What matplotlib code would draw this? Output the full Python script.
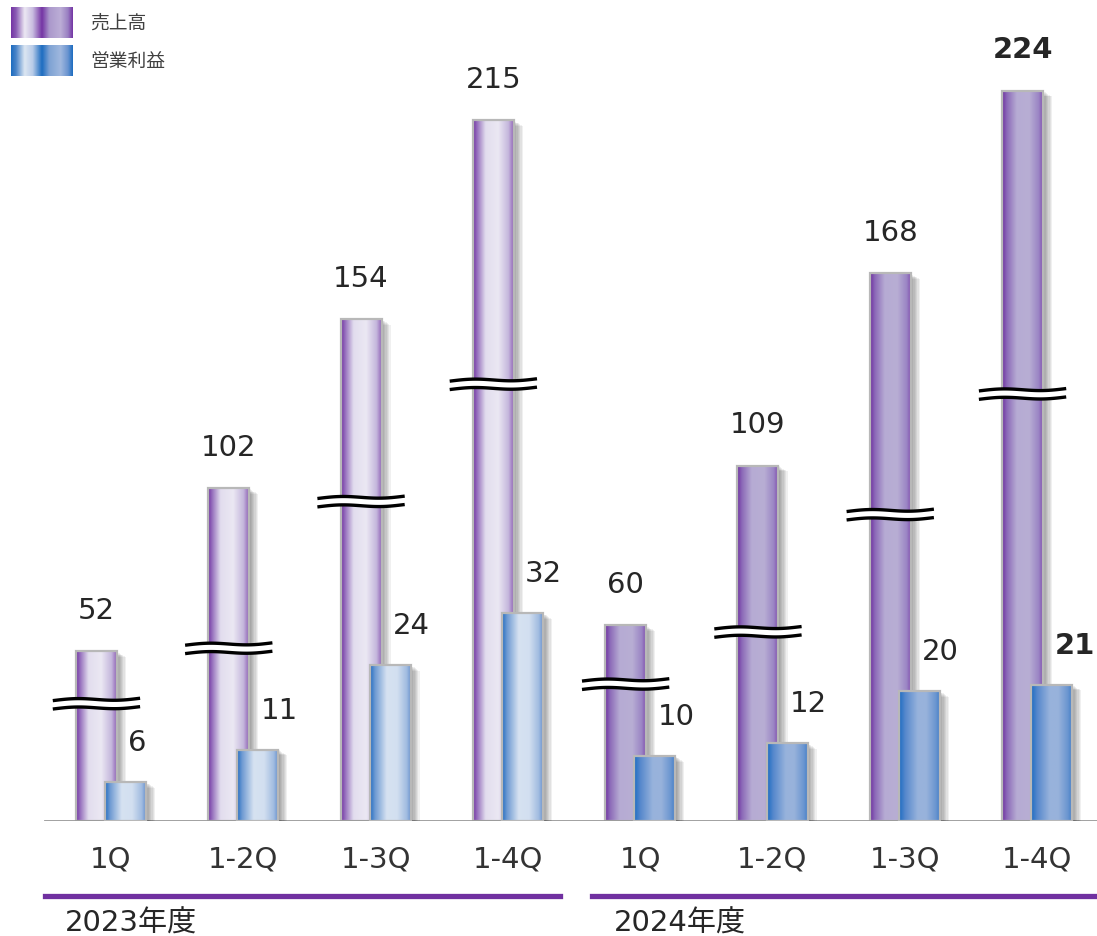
import numpy as np
import matplotlib
matplotlib.use("Agg")
import matplotlib.pyplot as plt
from matplotlib.colors import LinearSegmentedColormap
from matplotlib.patches import Rectangle, Polygon
from matplotlib.lines import Line2D
from matplotlib import transforms

plt.rcParams['font.family'] = ['DejaVu Sans', 'Noto Sans CJK JP']

# data
quarters = ["1Q", "1-2Q", "1-3Q", "1-4Q", "1Q", "1-2Q", "1-3Q", "1-4Q"]
years = ["2023年度", "2024年度"]
sales = [52, 102, 154, 215, 60, 109, 168, 224]
profit = [6, 11, 24, 32, 10, 12, 20, 21]
break_at = [36, 53, 98, 134, 42, 58, 94, 131]   # where the ～ mark sits on each sales bar
legend_labels = ["売上高", "営業利益"]

W, H = 1097, 937
fig = plt.figure(figsize=(W / 100, H / 100), dpi=100)
fig.patch.set_facecolor("white")

step = 132.3
ax = fig.add_axes([0, (H - 822) / H, 1, 822 / H])
ax.axis("off")
ax2 = ax.twinx()
ax2.axis("off")
ax2.patch.set_visible(False)

purple_23 = [(0, "#7232a2"), (0.1, "#9670bd"), (0.3, "#e2ddee"), (0.6, "#ebe8f3"), (0.85, "#c4b6dc"), (1, "#8650ae")]
purple_24 = [(0, "#6e30a0"), (0.12, "#8c6ab8"), (0.35, "#b6abd3"), (0.65, "#b8aed4"), (0.88, "#9a84c4"), (1, "#7a40aa")]
blue_23 = [(0, "#226cc2"), (0.12, "#6e9ad2"), (0.4, "#d6e2f1"), (0.65, "#d2dff0"), (0.88, "#a0bbe0"), (1, "#5a88cc")]
blue_24 = [(0, "#1c6cc2"), (0.15, "#5688cc"), (0.45, "#98b3dc"), (0.65, "#98b2db"), (0.88, "#6a95d0"), (1, "#3a7ac6")]

w = 0.31
off = 0.11


def shadow(axis, x0, h, z):
    for k in range(1, 8):
        tr = transforms.offset_copy(axis.transData, fig=fig, x=1.3 * k, y=-0.8 * k, units="dots")
        axis.add_patch(Rectangle((x0, 0), w, h, transform=tr, fc="#000000", ec="none",
                                 alpha=0.06, zorder=z - 0.5))


def grad_bar(axis, xc, h, stops, z):
    cmap = LinearSegmentedColormap.from_list("g", stops)
    img = np.linspace(0, 1, 256)[None, :]
    shadow(axis, xc - w / 2, h, z)
    axis.imshow(img, cmap=cmap, extent=[xc - w / 2, xc + w / 2, 0, h], aspect="auto",
                interpolation="bilinear", zorder=z)
    axis.add_patch(Rectangle((xc - w / 2, 0), w, h, fill=False, ec="#b8b8b8", lw=1.6, zorder=z + 0.1))


x = np.arange(len(quarters))
for i in range(len(quarters)):
    ps = purple_23 if i < 4 else purple_24
    bs = blue_23 if i < 4 else blue_24
    grad_bar(ax, x[i] - off, sales[i], ps, 2)
    grad_bar(ax2, x[i] + off, profit[i], bs, 2)

ax.set_xlim(-111 / step, (W - 111) / step)
ax.set_ylim(0, 822 / 3.26)
ax2.set_ylim(0, 822 / 6.5)

# break marks
t = np.linspace(0, 1, 80)
xs = (t - 0.5) * 0.84
ys = (2.0 * (t - 0.5) + 1.3 * np.sin(2 * np.pi * t)) / 100
gap = 0.042
for i in range(len(quarters)):
    tr = fig.dpi_scale_trans + transforms.ScaledTranslation(x[i] - off, break_at[i], ax.transData)
    verts = np.concatenate([np.c_[xs, ys + gap], np.c_[xs[::-1], ys[::-1] - gap]])
    ax.add_patch(Polygon(verts, closed=True, fc="white", ec="none", transform=tr, zorder=5))
    ax.plot(xs, ys + gap, color="black", lw=2.4, transform=tr, zorder=6, clip_on=False)
    ax.plot(xs, ys - gap, color="black", lw=2.4, transform=tr, zorder=6, clip_on=False)

# baseline
ax.axhline(0, xmin=45 / W, xmax=1, color="#9a9a9a", lw=1.3, zorder=7)

# value labels
for i in range(len(quarters)):
    bold = "bold" if i == len(quarters) - 1 else "normal"
    ax.annotate(str(sales[i]), (x[i] - off, sales[i]), xytext=(0, 24), textcoords="offset points",
                ha="center", va="baseline", fontsize=21, color="#262626", fontweight=bold,
                annotation_clip=False)
    ax2.annotate(str(profit[i]), (x[i] + off + 0.02, profit[i]), xytext=(0, 23), textcoords="offset points",
                 ha="left", va="baseline", fontsize=21, color="#262626", fontweight=bold,
                 annotation_clip=False)
    ax.annotate(quarters[i], (x[i], 0), xytext=(0, -33), textcoords="offset points",
                ha="center", va="baseline", fontsize=21, color="#333333", annotation_clip=False)

# fiscal year lines and labels
line_y = (H - 897) / H
fig.add_artist(Line2D([45 / W, 560 / W], [line_y, line_y], color="#7030a0", lw=3.8))
fig.add_artist(Line2D([592 / W, 1], [line_y, line_y], color="#7030a0", lw=3.8))
fig.text(65 / W, (H - 932) / H, years[0], fontsize=21, color="#262626", ha="left", va="baseline")
fig.text(614 / W, (H - 932) / H, years[1], fontsize=21, color="#262626", ha="left", va="baseline")

# legend
leg_stops = [[(0, "#7434a4"), (0.08, "#8a5cb4"), (0.22, "#ece8f3"), (0.35, "#c9bde0"), (0.5, "#7434a4"),
              (0.62, "#ab98cc"), (0.8, "#bcaed6"), (0.92, "#9a80c2"), (1, "#7434a4")],
             [(0, "#1c6cc0"), (0.08, "#4a84c8"), (0.22, "#dce6f2"), (0.35, "#b9cce8"), (0.5, "#1c6cc0"),
              (0.62, "#7ea2d4"), (0.8, "#a0b8de"), (0.92, "#6a94d0"), (1, "#1c6cc0")]]
for k, (lab, stops) in enumerate(zip(legend_labels, leg_stops)):
    top = 8 + 38 * k
    lax = fig.add_axes([11 / W, (H - top - 31) / H, 62 / W, 31 / H])
    lax.imshow(np.linspace(0, 1, 256)[None, :], cmap=LinearSegmentedColormap.from_list("l", stops),
               aspect="auto", interpolation="bilinear")
    lax.axis("off")
    fig.text(90 / W, (H - top - 15) / H, lab, fontsize=13.5, color="#404040", ha="left", va="center",
             family=["Noto Sans CJK JP", "DejaVu Sans"])

fig.savefig("out.png", dpi=100, facecolor="white")
